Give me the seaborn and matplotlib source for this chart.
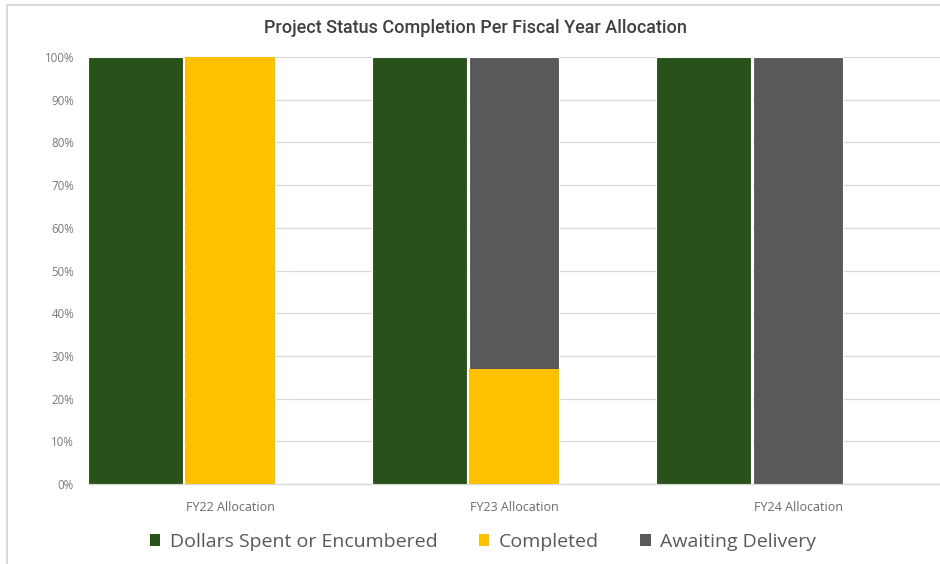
import matplotlib
matplotlib.use("Agg")
import matplotlib.pyplot as plt
import seaborn as sns
import numpy as np
import pandas as pd
from matplotlib.patches import Rectangle, Patch

categories = ["FY22 Allocation", "FY23 Allocation", "FY24 Allocation"]
dollars_spent = [100, 100, 100]
completed = [100, 27, 0]
awaiting = [0, 73, 100]
series_names = ["Dollars Spent or Encumbered", "Completed", "Awaiting Delivery"]
y_ticks = list(range(0, 101, 10))
title = "Project Status Completion Per Fiscal Year Allocation"

GREEN = "#28521A"
YELLOW = "#FFC000"
GRAY = "#595959"
TEXT = "#595959"
GRID = "#D9D9D9"

sns.set_theme(style="white")
plt.rcParams['font.family'] = ['Open Sans', 'DejaVu Sans']

df = pd.DataFrame({"category": categories, "dollars": dollars_spent,
                   "completed": completed, "awaiting": awaiting})
df["stack_total"] = df["completed"] + df["awaiting"]

fig = plt.figure(figsize=(9.4, 5.64), dpi=100)
ax = fig.add_axes([88/940, 1-484/564, 1-88/940, (484-57)/564])

# stacked bar (Completed + Awaiting Delivery), centered on category
sns.barplot(data=df, x="category", y="stack_total", color=GRAY, width=0.32,
            saturation=1, edgecolor="white", linewidth=0.8, ax=ax, zorder=3)
sns.barplot(data=df, x="category", y="completed", color=YELLOW, width=0.32,
            saturation=1, edgecolor="white", linewidth=0.0, ax=ax, zorder=4)
# Dollars spent bar on the left of each category
x = np.arange(len(categories))
ax.bar(x - 0.3325, df["dollars"], width=0.335, color=GREEN,
       edgecolor="white", linewidth=0.8, zorder=3)

ax.set_xlim(-0.5, 2.5)
ax.set_ylim(0, 100)
ax.set_yticks(y_ticks)
ax.set_yticklabels([f"{v}%" for v in y_ticks])
ax.set_xlabel("")
ax.set_ylabel("")
ax.yaxis.grid(True, color=GRID, linewidth=0.9)
ax.set_axisbelow(True)
for s in ["left", "right", "top"]:
    ax.spines[s].set_visible(False)
ax.spines["bottom"].set_color(GRID)
ax.spines["bottom"].set_linewidth(1.0)
ax.tick_params(axis="y", length=0, pad=10, labelsize=8.3, labelcolor="#7A7A7A")
ax.tick_params(axis="x", length=0, pad=12, labelsize=9, labelcolor="#6A6A6A")

fig.text(475/940, 1-28/564, title, ha="center", va="center", fontsize=13,
         color="#404040", family=["Roboto", "DejaVu Sans"], fontweight="medium")

handles = [Patch(facecolor=c, edgecolor="none") for c in (GREEN, YELLOW, GRAY)]
fig.legend(handles, series_names, loc="center", bbox_to_anchor=(483/940, 1-542/564),
           ncol=3, frameon=False, fontsize=14, labelcolor=TEXT,
           handlelength=0.55, handleheight=0.55, handletextpad=0.5, columnspacing=2.1)

fig.patches.append(Rectangle((7/940, -0.1), 1.0, 1 - 4.5/564 + 0.1,
                             transform=fig.transFigure, fill=False,
                             edgecolor=GRID, linewidth=1.5))

fig.savefig("out.png", dpi=100)
